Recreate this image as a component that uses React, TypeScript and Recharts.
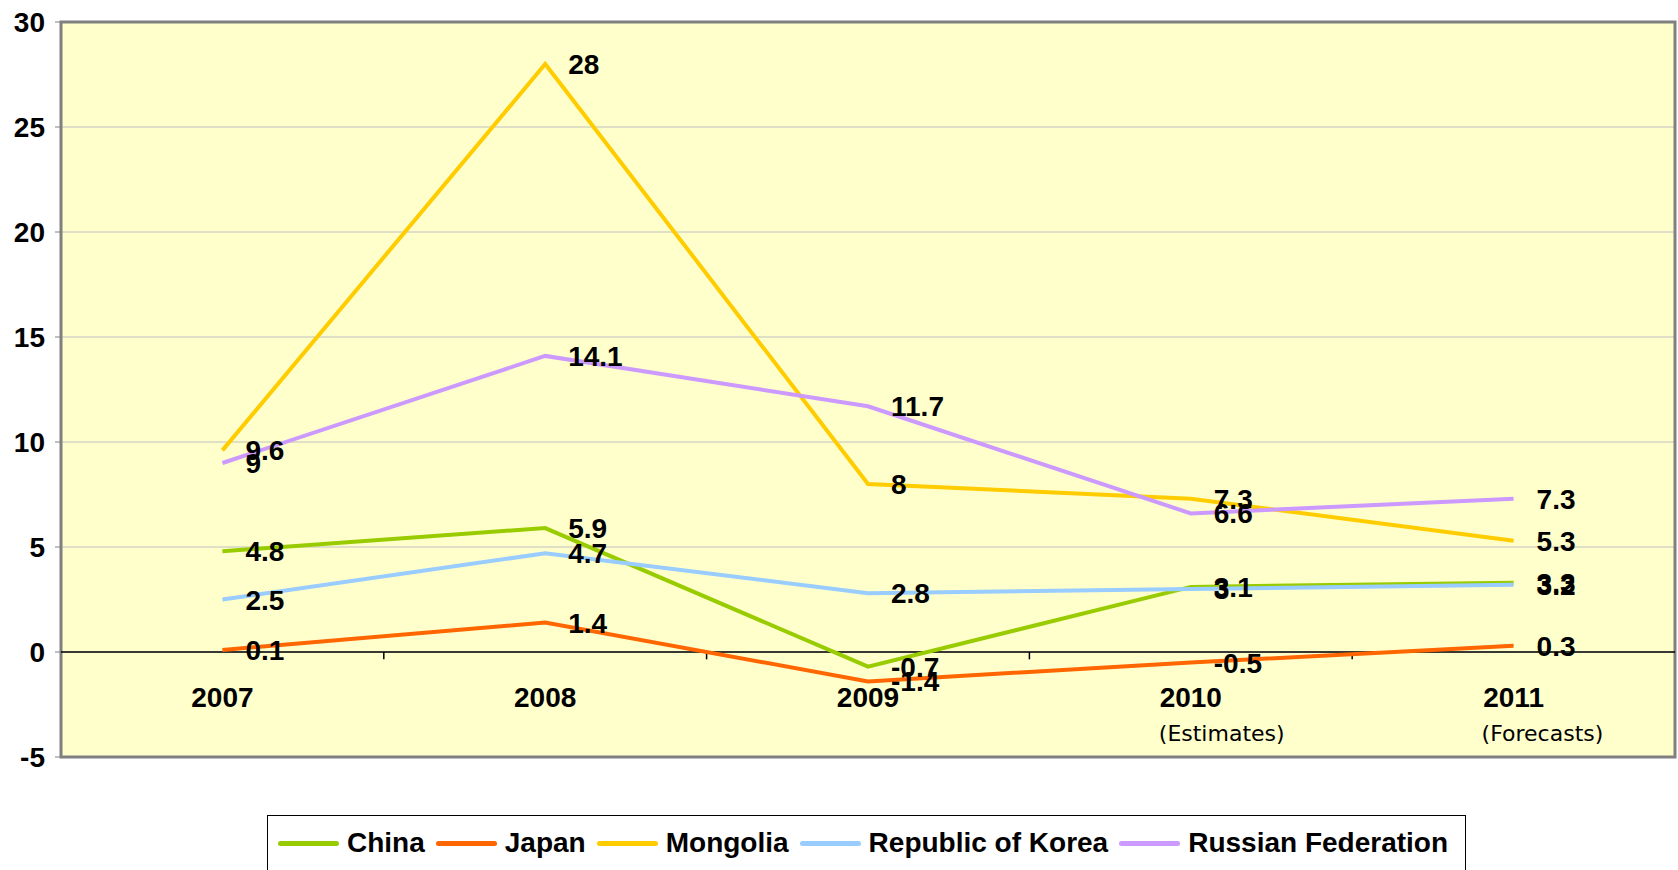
import {
  CartesianGrid,
  LabelList,
  Line,
  LineChart,
  ReferenceArea,
  ReferenceLine,
  XAxis,
  YAxis,
} from 'recharts'

const years = ['2007', '2008', '2009', '2010', '2011']
const yearNotes = ['', '', '', '(Estimates)', '(Forecasts)']

const china = [4.8, 5.9, -0.7, 3.1, 3.3]
const japan = [0.1, 1.4, -1.4, -0.5, 0.3]
const mongolia = [9.6, 28, 8, 7.3, 5.3]
const korea = [2.5, 4.7, 2.8, 3, 3.2]
const russia = [9, 14.1, 11.7, 6.6, 7.3]

const yTicks = [-5, 0, 5, 10, 15, 20, 25, 30]
// edges between year bands, marked by small ticks under the zero line
const bandEdges = [0.5, 1.5, 2.5, 3.5]

const series = [
  { key: 'china', name: 'China', color: '#99cc00' },
  { key: 'japan', name: 'Japan', color: '#ff6600' },
  { key: 'mongolia', name: 'Mongolia', color: '#ffcc00' },
  { key: 'korea', name: 'Republic of Korea', color: '#99ccff' },
  { key: 'russia', name: 'Russian Federation', color: '#cc99ff' },
]

const FONT = '"Liberation Sans", Arial, sans-serif'

const data = years.map((year, i) => ({
  idx: i,
  year,
  china: china[i],
  japan: japan[i],
  mongolia: mongolia[i],
  korea: korea[i],
  russia: russia[i],
}))

function YearTick({ x, y, payload }: any) {
  const i = Number(payload.value)
  return (
    <g>
      <text
        x={x}
        y={y - 50}
        textAnchor="middle"
        fontFamily={FONT}
        fontSize={28}
        fontWeight="bold"
        fill="#000"
      >
        {years[i]}
      </text>
      {yearNotes[i] && (
        <text
          x={x - 32}
          y={y - 16}
          textAnchor="start"
          fontFamily='"DejaVu Sans", Verdana, sans-serif'
          fontSize={22}
          fill="#000"
        >
          {yearNotes[i]}
        </text>
      )}
    </g>
  )
}

function PointLabel({ x, y, value }: any) {
  return (
    <text
      x={Number(x) + 23}
      y={Number(y)}
      dy="0.36em"
      fontFamily={FONT}
      fontSize={28}
      fontWeight="bold"
      fill="#000"
    >
      {value}
    </text>
  )
}

export default function App() {
  return (
    <div
      style={{
        position: 'absolute',
        left: 0,
        top: 0,
        width: 1678,
        height: 870,
        overflow: 'hidden',
        background: '#fff',
      }}
    >
      <LineChart
        width={1678}
        height={870}
        data={data}
        margin={{ top: 22, right: 3, bottom: 0, left: 0 }}
      >
        <CartesianGrid
          vertical={false}
          stroke="#c0c0c0"
          fill="#ffffcc"
          fillOpacity={1}
        />
        <XAxis
          dataKey="idx"
          type="number"
          domain={[-0.5, 4.5]}
          ticks={[0, 1, 2, 3, 4]}
          height={113}
          axisLine={false}
          tickLine={false}
          tickSize={0}
          tickMargin={0}
          tick={<YearTick />}
          interval={0}
        />
        <YAxis
          domain={[-5, 30]}
          ticks={yTicks}
          width={61}
          axisLine={false}
          tickLine={{ stroke: '#808080' }}
          tickSize={6}
          tickMargin={10}
          tick={{
            fontFamily: FONT,
            fontSize: 28,
            fontWeight: 'bold',
            fill: '#000',
          }}
        />
        <ReferenceLine y={0} stroke="#000" strokeWidth={1.5} />
        {bandEdges.map((e) => (
          <ReferenceLine
            key={e}
            segment={[
              { x: e, y: 0 },
              { x: e, y: -0.35 },
            ]}
            stroke="#000"
            strokeWidth={1.5}
          />
        ))}
        <ReferenceArea
          x1={-0.5}
          x2={4.5}
          y1={-5}
          y2={30}
          fill="none"
          fillOpacity={0}
          stroke="#808080"
          strokeWidth={3}
        />
        {series.map((s) => (
          <Line
            key={s.key}
            dataKey={s.key}
            name={s.name}
            stroke={s.color}
            strokeWidth={4}
            dot={false}
            activeDot={false}
            type="linear"
            isAnimationActive={false}
          >
            <LabelList dataKey={s.key} content={<PointLabel />} />
          </Line>
        ))}
      </LineChart>
      <div
        style={{
          position: 'absolute',
          left: 267,
          top: 815,
          width: 1199,
          height: 80,
          border: '1.5px solid #000',
          boxSizing: 'border-box',
          background: '#fff',
          display: 'flex',
          alignItems: 'flex-start',
          paddingLeft: 10,
          paddingTop: 10,
          fontFamily: FONT,
          fontSize: 28,
          fontWeight: 'bold',
          lineHeight: '34px',
        }}
      >
        {series.map((s) => (
          <div
            key={s.key}
            style={{ display: 'flex', alignItems: 'center', marginRight: 11 }}
          >
            <span
              style={{
                display: 'inline-block',
                width: 61,
                height: 5,
                borderRadius: 3,
                background: s.color,
                marginRight: 8,
              }}
            />
            <span>{s.name}</span>
          </div>
        ))}
      </div>
    </div>
  )
}
